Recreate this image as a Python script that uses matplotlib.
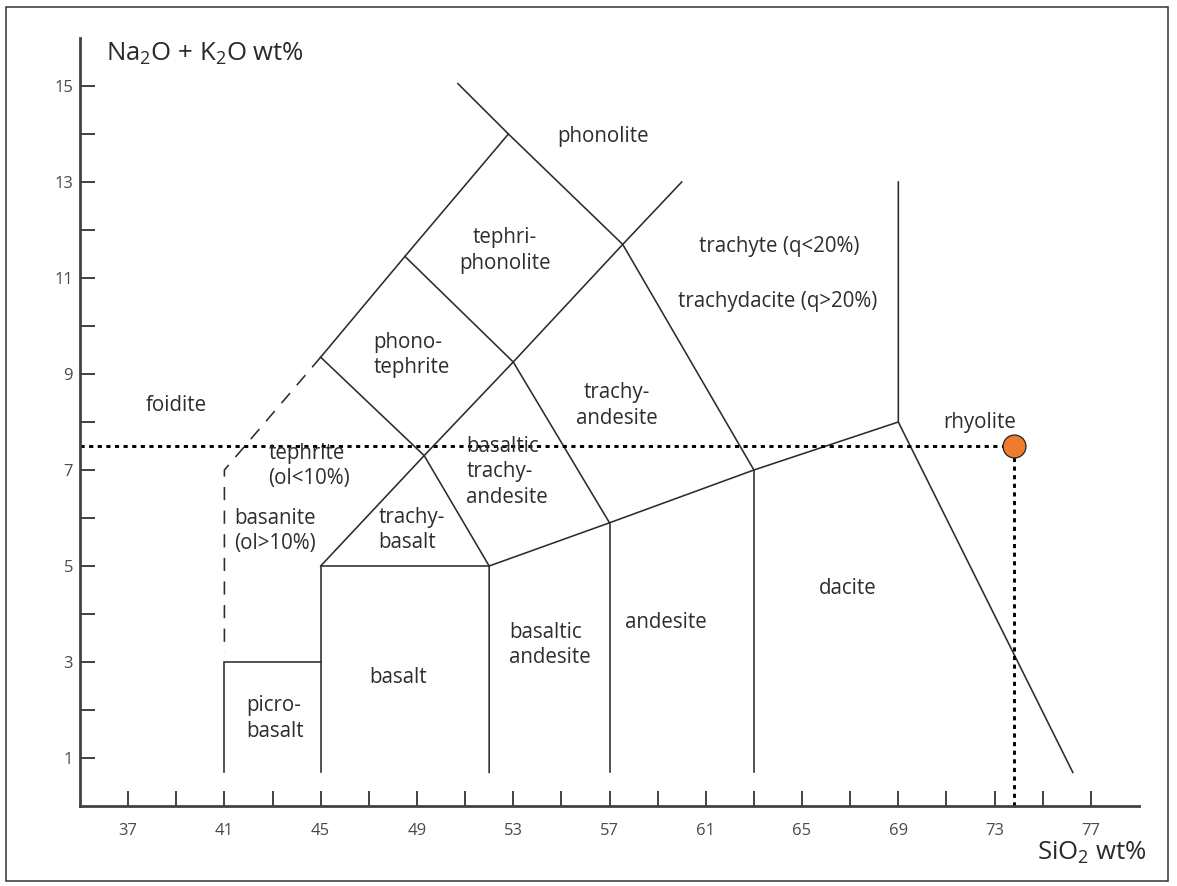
import matplotlib
matplotlib.use("Agg")
import matplotlib.pyplot as plt
from matplotlib.patches import Rectangle

plt.rcParams['font.family'] = ['Open Sans', 'DejaVu Sans']
plt.rcParams['mathtext.fontset'] = 'custom'
plt.rcParams['mathtext.rm'] = 'Open Sans'
plt.rcParams['mathtext.it'] = 'Open Sans:italic'
plt.rcParams['lines.scale_dashes'] = False

# field boundaries (SiO2, Na2O+K2O)
solid_bounds = [
    [(41, 0.7), (41, 3), (45, 3)],
    [(45, 0.7), (45, 5), (52, 5)],
    [(52, 0.7), (52, 5), (57, 5.9), (63, 7), (69, 8)],
    [(57, 0.7), (57, 5.9)],
    [(63, 0.7), (63, 7)],
    [(69, 13), (69, 8), (76.25, 0.7)],
    [(45, 5), (49.3, 7.3), (53, 9.25), (57.55, 11.7), (60, 13)],
    [(45, 9.35), (48.5, 11.45), (52.8, 14), (50.7, 15.05)],
    [(45, 9.35), (49.3, 7.3), (52, 5)],
    [(48.5, 11.45), (53, 9.25), (57, 5.9)],
    [(52.8, 14), (57.55, 11.7), (63, 7)],
]
dashed_bound = [(45, 9.35), (41, 7), (41, 3.2)]

# rock names: text, x, y, horizontal alignment
field_names = ['foidite', 'picro-\nbasalt', 'basalt', 'basanite\n(ol>10%)',
               'tephrite\n(ol<10%)', 'trachy-\nbasalt',
               'basaltic\ntrachy-\nandesite', 'basaltic\nandesite', 'andesite',
               'dacite', 'trachy-\nandesite', 'phono-\ntephrite',
               'tephri-\nphonolite', 'phonolite', 'trachyte (q<20%)',
               'trachydacite (q>20%)', 'rhyolite']
name_x = [39.0, 41.9, 48.2, 41.41, 42.82, 47.39, 51.05, 52.84, 59.36,
          66.88, 57.3, 47.18, 52.65, 56.74, 64.06, 63.97, 72.37]
name_y = [8.35, 1.82, 2.67, 5.73, 7.08, 5.75, 6.96, 3.35, 3.83,
          4.54, 8.34, 9.4, 11.57, 13.94, 11.65, 10.5, 7.98]
name_ha = ['center', 'left', 'center', 'left', 'left', 'left', 'left', 'left',
           'center', 'center', 'center', 'left', 'center', 'center', 'center',
           'center', 'center']

sample_sio2 = 73.8
sample_alk = 7.5

x_ticks = list(range(37, 78, 2))
x_labels = [str(v) if (v - 37) % 4 == 0 else '' for v in x_ticks]
y_ticks = list(range(1, 16))
y_labels = [str(v) if v % 2 == 1 else '' for v in y_ticks]

line_col = '#2e2b2a'
axis_col = '#48413d'

fig = plt.figure(figsize=(11.77, 8.86), dpi=100)
ax = fig.add_axes([80 / 1177, 80 / 886, 1059 / 1177, 768 / 886])

for seg in solid_bounds:
    xs, ys = zip(*seg)
    ax.plot(xs, ys, color=line_col, lw=1.15, solid_joinstyle='miter')
xs, ys = zip(*dashed_bound)
ax.plot(xs, ys, color=line_col, lw=1.15, dashes=(9.5, 7.5))

for name, x, y, ha in zip(field_names, name_x, name_y, name_ha):
    ax.text(x, y, name, ha=ha, va='center', multialignment=ha,
            fontsize=14.8, color='#302c2a', linespacing=1.28)

# sample projection lines and point
ax.plot([35, sample_sio2], [sample_alk, sample_alk], color='black', lw=2.1,
        dashes=(3, 3.2))
ax.plot([sample_sio2, sample_sio2], [0, sample_alk], color='black', lw=2.1,
        dashes=(3, 3.2))
ax.plot(sample_sio2, sample_alk, 'o', ms=16.5, mfc='#ef7c2e', mec='#222',
        mew=0.9, zorder=5)

ax.set_xlim(35, 79)
ax.set_ylim(0, 16)
for s in ['top', 'right']:
    ax.spines[s].set_visible(False)
for s in ['left', 'bottom']:
    ax.spines[s].set_linewidth(2.0)
    ax.spines[s].set_color(axis_col)

ax.set_xticks(x_ticks)
ax.set_xticklabels(x_labels)
ax.set_yticks(y_ticks)
ax.set_yticklabels(y_labels)
ax.tick_params(direction='in', length=10.5, width=1.4, color=axis_col,
               labelcolor='#4a4a4a', labelsize=12)
ax.tick_params(axis='x', pad=12.5)
ax.tick_params(axis='y', pad=5)

fig.text(106 / 1177, 1 - 61 / 886, r'Na$_2$O + K$_2$O wt%', fontsize=18.5,
         color='#2a2a2a', va='baseline', ha='left')
fig.text(1037 / 1177, 1 - 860 / 886, r'SiO$_2$ wt%', fontsize=18.5,
         color='#2a2a2a', va='baseline', ha='left')

fig.patches.append(Rectangle((6 / 1177, 5 / 886), 1162 / 1177, 874 / 886,
                             transform=fig.transFigure, fill=False,
                             lw=1.1, ec='#333'))

fig.savefig('out.png', dpi=100)
